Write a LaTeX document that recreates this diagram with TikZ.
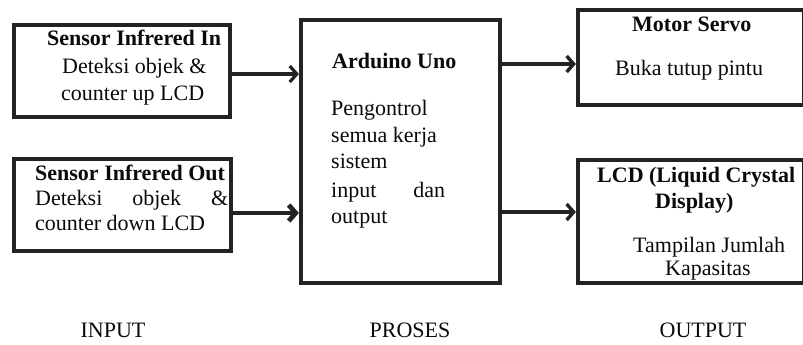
\documentclass[tikz,border=0pt]{standalone}
\usepackage{fontspec}
\setmainfont{Liberation Serif}
\usetikzlibrary{arrows.meta}
\definecolor{ln}{RGB}{35,35,35}
\definecolor{tx}{RGB}{10,10,10}
\begin{document}
\begin{tikzpicture}[x=1pt,y=-1pt,
  box/.style={draw=ln, line width=4.2pt, inner sep=0pt},
  txt/.style={inner sep=0pt, font=\fontsize{22}{26}\selectfont, text=tx, anchor=base west},
  btxt/.style={txt, font=\fontsize{22}{26}\selectfont\bfseries},
  ctxt/.style={txt, anchor=base},
  arr/.style={draw=ln, -{Straight Barb[length=7pt,width=16pt]}}]
\useasboundingbox (0,0) rectangle (803,345);
\fill[white] (0,0) rectangle (803,345);
% boxes
\node[box, minimum width=216pt, minimum height=92pt] (b1) at (122,71) {};
\node[box, minimum width=217pt, minimum height=92pt] (b2) at (122.5,205) {};
\node[box, minimum width=199pt, minimum height=263pt] (ard) at (400.5,151.5) {};
\node[box, minimum width=226pt, minimum height=95pt] (ms) at (691,57.5) {};
\node[box, minimum width=226pt, minimum height=123pt] (lcd) at (691,221.5) {};
% texts box 1
\node[btxt] (t1a) at (47,46) {Sensor Infrered In};
\node[txt] (t1b) at (62,74) {Deteksi objek \&};
\node[txt] (t1c) at (61,100) {counter up LCD};
% texts box 2
\node[btxt] (t2a) at (35,180) {Sensor Infrered Out};
\node[txt] (t2b) at (35,205) {\hbox to 193pt{Deteksi\hfill objek\hfill\&}};
\node[txt] (t2c) at (35,230) {counter down LCD};
% arduino
\node[btxt] (ta) at (332,68) {Arduino Uno};
\node[txt] (tb1) at (331,115) {Pengontrol};
\node[txt] (tb2) at (331,142) {semua kerja};
\node[txt] (tb3) at (331,168) {sistem};
\node[txt] (tb4) at (331,197) {\hbox to 114pt{input\hfill dan}};
\node[txt] (tb5) at (331,223) {output};
% motor servo
\node[btxt] (m1) at (632,32) {Motor Servo};
\node[txt] (m2) at (615,75) {Buka tutup pintu};
% lcd
\node[btxt] (l1) at (597,182) {LCD (Liquid Crystal};
\node[btxt] (l2) at (655,208) {Display)};
\node[txt] (l3) at (633,252) {Tampilan Jumlah};
\node[txt] (l4) at (665,275) {Kapasitas};
% bottom labels
\node[ctxt] (in) at (113,337) {INPUT};
\node[ctxt] (pr) at (410,337) {PROSES};
\node[ctxt] (out) at (703,337) {OUTPUT};
% arrows
\draw[arr, line width=3.2pt] ([yshift=-3pt]b1.east) -- ([yshift=-3pt]b1.east -| ard.west);
\draw[arr, line width=4.8pt] ([yshift=-8pt]b2.east) -- ([yshift=-8pt]b2.east -| ard.west);
\draw[arr, line width=3.4pt] ([yshift=87.5pt]ard.east) -- ([yshift=87.5pt]ard.east -| ms.west);
\draw[arr, line width=3.4pt] ([yshift=-60.5pt]ard.east) -- ([yshift=-60.5pt]ard.east -| lcd.west);
\end{tikzpicture}
\end{document}
